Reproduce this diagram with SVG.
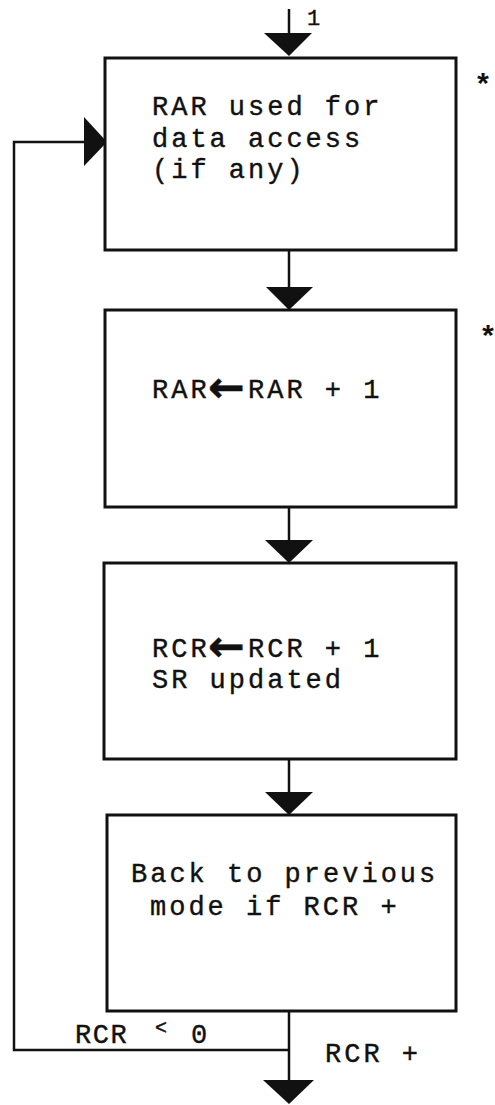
<svg xmlns="http://www.w3.org/2000/svg" width="495" height="1105" viewBox="0 0 495 1105">
<style>
.box{fill:#fff;stroke:#111;stroke-width:3}
.ln{fill:none;stroke:#111;stroke-width:2.5}
.ah{fill:#111}
.t{font-family:"Liberation Mono","Courier New",monospace;font-size:27px;letter-spacing:3px;fill:#111;stroke:#111;stroke-width:0.4}
.ar{font-family:"DejaVu Sans",sans-serif;font-size:44px;letter-spacing:0;font-weight:bold}
.s{font-family:"Liberation Mono","Courier New",monospace;font-size:30px;font-weight:bold;fill:#111}
</style>
<rect width="495" height="1105" fill="#fff"/>
<g id="connectors">
<line class="ln" x1="289" y1="9" x2="289" y2="40"/>
<polygon class="ah" points="264,33 312,33 289,56"/>
<line class="ln" x1="289" y1="250" x2="289" y2="292"/>
<polygon class="ah" points="266,287 313,287 289,310"/>
<line class="ln" x1="289" y1="507" x2="289" y2="545"/>
<polygon class="ah" points="265,540 313,540 289,563"/>
<line class="ln" x1="289" y1="759" x2="289" y2="796"/>
<polygon class="ah" points="265,792 313,792 289,815"/>
<line class="ln" x1="289" y1="1011" x2="289" y2="1085"/>
<polygon class="ah" points="263,1080 314,1080 289,1104"/>
<polyline class="ln" points="289,1050 14,1050 14,142 90,142"/>
<polygon class="ah" points="84,117 84,166 107,142"/>
<text class="t" x="307" y="25" style="font-size:22px;letter-spacing:0">1</text>
<text class="t" x="75" y="1043" style="letter-spacing:1.5px">RCR</text>
<text class="t" x="155" y="1034" style="font-size:20px;letter-spacing:0">&lt;</text>
<text class="t" x="191" y="1043">0</text>
<text class="t" x="325" y="1062">RCR +</text>
</g>
<g id="n1">
<rect class="box" x="105" y="58" width="351" height="192"/>
<text class="t" x="152" y="115">RAR used for</text>
<text class="t" x="152" y="147">data access</text>
<text class="t" x="152" y="178">(if any)</text>
<text class="s" x="474" y="95">*</text>
</g>
<g id="n2">
<rect class="box" x="105" y="310" width="351" height="197"/>
<text class="t" y="398"><tspan x="152">RAR</tspan><tspan class="ar" x="208" y="402">←</tspan><tspan x="248" y="398">RAR + 1</tspan></text>
<text class="s" x="479" y="347">*</text>
</g>
<g id="n3">
<rect class="box" x="104" y="563" width="352" height="196"/>
<text class="t" y="657"><tspan x="152">RCR</tspan><tspan class="ar" x="208" y="661">←</tspan><tspan x="248" y="657">RCR + 1</tspan></text>
<text class="t" x="152" y="688">SR updated</text>
</g>
<g id="n4">
<rect class="box" x="107" y="815" width="349" height="196"/>
<text class="t" x="131" y="882">Back to previous</text>
<text class="t" x="150" y="915">mode if RCR +</text>
</g>
</svg>
